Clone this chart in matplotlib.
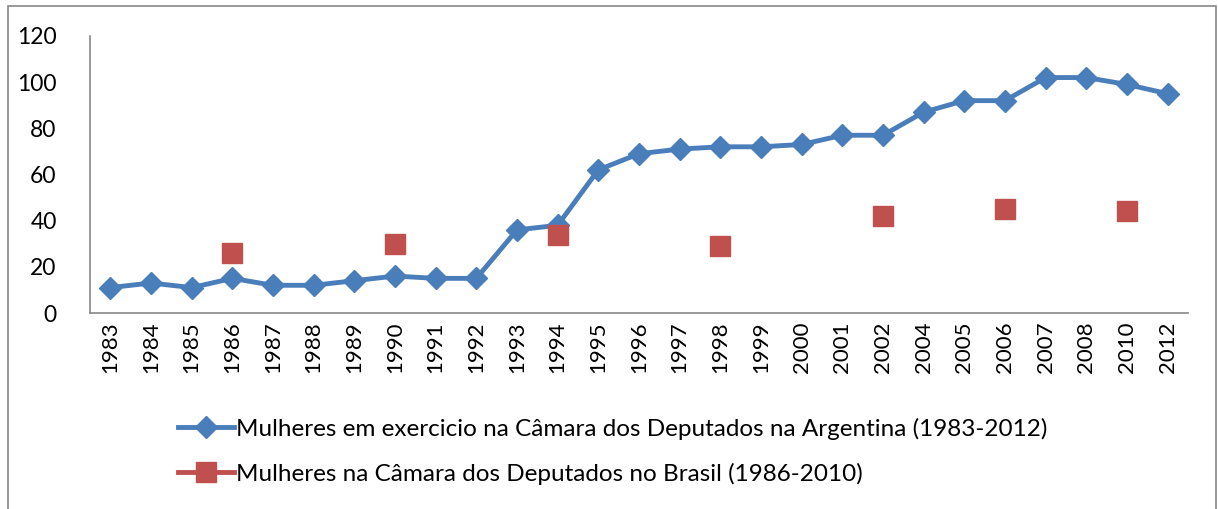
import matplotlib
matplotlib.use("Agg")
import matplotlib.pyplot as plt
from matplotlib.patches import Rectangle
from matplotlib.lines import Line2D

years = ["1983", "1984", "1985", "1986", "1987", "1988", "1989", "1990", "1991", "1992",
         "1993", "1994", "1995", "1996", "1997", "1998", "1999", "2000", "2001", "2002",
         "2004", "2005", "2006", "2007", "2008", "2010", "2012"]
argentina = [11, 13, 11, 15, 12, 12, 14, 16, 15, 15, 36, 38, 62, 69, 71, 72, 72, 73, 77, 77,
             87, 92, 92, 102, 102, 99, 95]
brasil_years = ["1986", "1990", "1994", "1998", "2002", "2006", "2010"]
brasil = [26, 30, 34, 29, 42, 45, 44]

label_arg = "Mulheres em exercicio na Câmara dos Deputados na Argentina (1983-2012)"
label_bra = "Mulheres na Câmara dos Deputados no Brasil (1986-2010)"

plt.rcParams['font.family'] = ['Lato', 'DejaVu Sans']

W, H = 1218, 509
fig = plt.figure(figsize=(W / 100, H / 100), dpi=100)
ax = fig.add_axes([90 / W, 1 - 313 / H, (1188 - 90) / W, (313 - 36) / H])

x = list(range(len(years)))
bx = [years.index(y) for y in brasil_years]

blue = "#4a7ebb"
red = "#c0504d"
ax.plot(x, argentina, color=blue, linewidth=3.5, marker="D", markersize=11, zorder=3)
ax.plot(bx, brasil, linestyle="none", color=red, marker="s", markersize=14, zorder=4)

ax.set_xlim(-0.5, len(years) - 0.5)
ax.set_ylim(0, 120)
ax.set_yticks(range(0, 121, 20))
ax.set_xticks(x)
ax.set_xticklabels(years, rotation=90, fontsize=16)
ax.tick_params(axis="y", length=0, labelsize=16.5, pad=24)
ax.tick_params(axis="x", length=0, pad=6)
for s in ["top", "right"]:
    ax.spines[s].set_visible(False)
for s in ["left", "bottom"]:
    ax.spines[s].set_color("#888888")
    ax.spines[s].set_linewidth(1.2)

handles = [
    Line2D([], [], color=blue, linewidth=3.5, marker="D", markersize=11),
    Line2D([], [], color=red, linewidth=3.5, marker="s", markersize=14),
]
leg = fig.legend(handles, [label_arg, label_bra], loc="upper left",
                 bbox_to_anchor=(168 / W, 1 - 408 / H), frameon=False,
                 fontsize=17.5, handlelength=2.3, handletextpad=0.1, labelspacing=0.95,
                 borderaxespad=0)

fig.patches.append(Rectangle((8 / W, -0.01), (1216 - 8) / W, 1 - 6 / H + 0.01,
                             transform=fig.transFigure, fill=False,
                             edgecolor="#888888", linewidth=1.2))

fig.savefig("out.png", dpi=100)
